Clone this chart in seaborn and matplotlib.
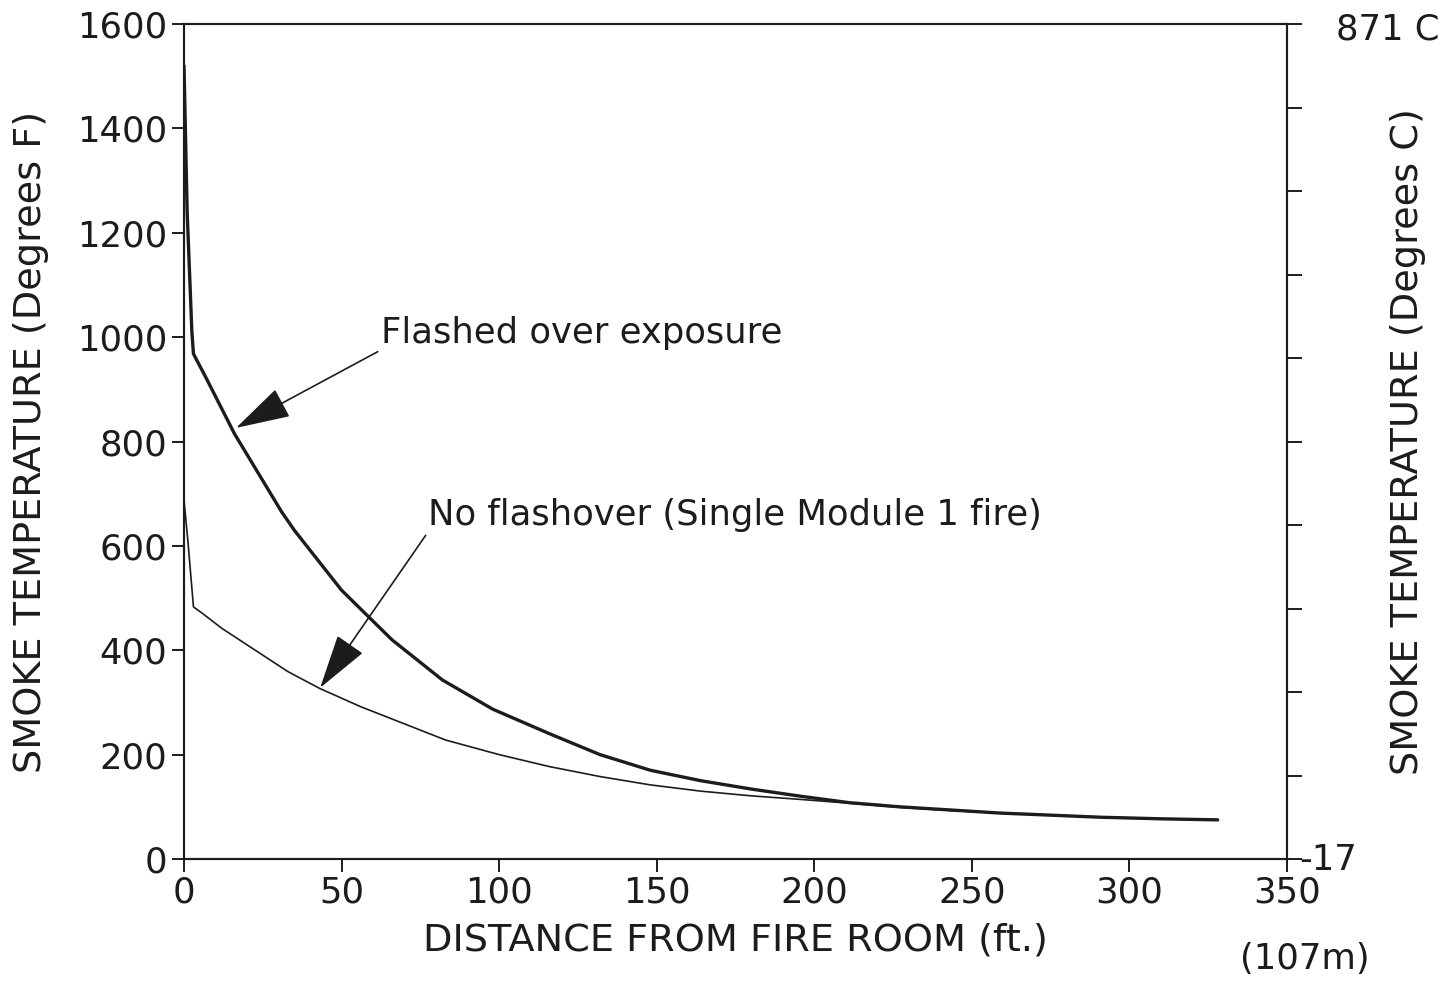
import matplotlib
matplotlib.use("Agg")
import matplotlib.pyplot as plt
import seaborn as sns
import pandas as pd

# ---- data ----
flashed_x = [0, 1, 2.5, 3, 7, 16, 31, 35, 50, 66, 82, 98, 116, 132, 148, 164,
             180, 196, 211, 227, 243, 259, 275, 291, 310, 328]
flashed_y = [1520, 1240, 1010, 968, 922, 815, 665, 630, 515, 420, 343, 287, 240,
             200, 170, 150, 134, 120, 108, 100, 94, 88, 84, 80, 77, 75]

noflash_x = [0, 1.3, 3, 6, 12, 33, 43, 56, 83, 100, 116, 132, 148, 164, 180,
             196, 211, 227, 243, 259, 275, 291, 310, 328]
noflash_y = [688, 605, 483, 470, 442, 359, 327, 292, 228, 200, 177, 158, 142,
             130, 121, 114, 107, 99, 93, 88, 84, 80, 77, 75]

x_ticks = [0, 50, 100, 150, 200, 250, 300, 350]
y_ticks = [0, 200, 400, 600, 800, 1000, 1200, 1400, 1600]
right_ticks = [0, 160, 320, 480, 640, 800, 960, 1120, 1280, 1440, 1600]
right_top_label = "871 C"
right_bottom_label = "-17"

x_label = "DISTANCE FROM FIRE ROOM (ft.)"
y_label = "SMOKE TEMPERATURE (Degrees F)"
y2_label = "SMOKE TEMPERATURE (Degrees C)"
metric_note = "(107m)"
label_flashed = "Flashed over exposure"
label_noflash = "No flashover (Single Module 1 fire)"

# ---- style ----
sns.set_theme(style="white")
plt.rcParams["font.family"] = ["DejaVu Sans"]
ink = "#1c1c1c"
plt.rcParams.update({
    "axes.edgecolor": ink, "axes.linewidth": 1.5,
    "xtick.color": ink, "ytick.color": ink,
    "xtick.major.size": 9, "ytick.major.size": 9,
    "xtick.major.width": 1.4, "ytick.major.width": 1.4,
    "xtick.direction": "out", "ytick.direction": "out",
    "xtick.bottom": True, "ytick.left": True,
    "text.color": ink, "axes.labelcolor": ink,
})

fs = 25.5      # tick labels / annotations
fs_lab = 27.5  # axis titles
fig = plt.figure(figsize=(14.52, 9.83), dpi=100)
ax = fig.add_axes([184 / 1452, 1 - 859 / 983, (1287 - 184) / 1452, (859 - 24) / 983])

df_f = pd.DataFrame({"x": flashed_x, "y": flashed_y})
df_n = pd.DataFrame({"x": noflash_x, "y": noflash_y})
sns.lineplot(data=df_f, x="x", y="y", ax=ax, color=ink, linewidth=2.4,
             estimator=None, sort=False)
sns.lineplot(data=df_n, x="x", y="y", ax=ax, color=ink, linewidth=1.2,
             estimator=None, sort=False)

ax.set_xlim(0, 350)
ax.set_ylim(0, 1600)
ax.set_xticks(x_ticks)
ax.set_yticks(y_ticks)
ax.tick_params(axis="both", labelsize=fs, pad=3)
ax.set_xlabel(x_label, fontsize=fs_lab, labelpad=9)
ax.set_ylabel(y_label, fontsize=fs_lab, labelpad=20)
for s in ax.spines.values():
    s.set_visible(True)

# right (Celsius) axis
ax2 = ax.twinx()
ax2.set_ylim(0, 1600)
ax2.set_yticks(right_ticks)
ax2.set_yticklabels([""] * len(right_ticks))
ax2.tick_params(axis="y", right=True, direction="out", length=11, width=1.4)
ax2.set_ylabel(y2_label, fontsize=fs_lab, labelpad=60)
ax2.grid(False)
ax.grid(False)

ax2.annotate(right_top_label, xy=(1, 1), xycoords="axes fraction",
             xytext=(35, -4), textcoords="offset points", fontsize=fs,
             ha="left", va="center")
ax2.annotate(right_bottom_label, xy=(1, 0), xycoords="axes fraction",
             xytext=(9, -1), textcoords="offset points", fontsize=fs,
             ha="left", va="center")
ax2.annotate(metric_note, xy=(1, 0), xycoords="axes fraction",
             xytext=(-34, -72), textcoords="offset points", fontsize=fs,
             ha="left", va="center")

# annotations with arrows
arrow_kw = dict(arrowstyle="-|>,head_length=3.5,head_width=1.0",
                color=ink, lw=1.2, mutation_scale=10, shrinkA=0, shrinkB=0,
                relpos=(0, 0))
ax.annotate(label_flashed, xy=(16.5, 826), xytext=(62.5, 1008),
            fontsize=fs, ha="left", va="center", arrowprops=arrow_kw)
ax.annotate(label_noflash, xy=(43.2, 328), xytext=(77.4, 659),
            fontsize=fs, ha="left", va="center", arrowprops=arrow_kw)

fig.savefig("out.png", dpi=100, facecolor="white")
